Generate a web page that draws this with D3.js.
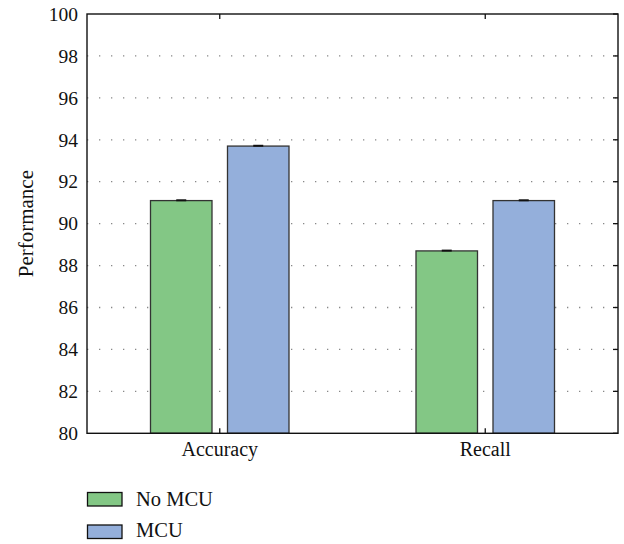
<!DOCTYPE html>
<html><head><meta charset="utf-8">
<script src="https://cdn.jsdelivr.net/npm/d3@7"></script>
<style>body{margin:0;background:#fff}svg{display:block}svg text{font-family:"Liberation Serif","Times New Roman",serif !important;fill:#111}</style>
</head><body><svg id="c" width="624" height="544"></svg>
<script>
const categories = ["Accuracy", "Recall"];
const seriesNames = ["No MCU", "MCU"];
const noMCU = [91.1, 88.7];
const mcu = [93.7, 91.1];
const yTicks = [80, 82, 84, 86, 88, 90, 92, 94, 96, 98, 100];
const colors = ["#83c785", "#94afdb"];

const svg = d3.select("#c");
const L = 87, R = 618, T = 14, B = 433.3;
const x = d3.scaleBand().domain(categories).range([L, R]).paddingInner(0.0).paddingOuter(0.0);
const y = d3.scaleLinear().domain([80, 100]).range([B, T]);
const bw = 61.5, gap = 15.5;

svg.append("g").selectAll("line").data(yTicks.slice(1, -1)).join("line")
  .attr("x1", L).attr("x2", R).attr("y1", d => y(d)).attr("y2", d => y(d))
  .attr("stroke", "#888").attr("stroke-width", 1.3).attr("stroke-dasharray", "1.3,10.7");

const series = [noMCU, mcu];
series.forEach((vals, si) => {
  const g = svg.append("g");
  g.selectAll("rect").data(categories).join("rect")
    .attr("x", d => x(d) + x.bandwidth()/2 + (si === 0 ? -gap/2 - bw : gap/2))
    .attr("width", bw)
    .attr("y", (d, i) => y(vals[i]))
    .attr("height", (d, i) => B - y(vals[i]))
    .attr("fill", colors[si]).attr("stroke", "#333").attr("stroke-width", 1.3);
  g.selectAll("line").data(categories).join("line")
    .attr("x1", d => x(d) + x.bandwidth()/2 + (si === 0 ? -gap/2 - bw/2 : gap/2 + bw/2) - 5)
    .attr("x2", d => x(d) + x.bandwidth()/2 + (si === 0 ? -gap/2 - bw/2 : gap/2 + bw/2) + 5)
    .attr("y1", (d, i) => y(vals[i]) - 0.3).attr("y2", (d, i) => y(vals[i]) - 0.3)
    .attr("stroke", "#111").attr("stroke-width", 2);
});

svg.append("rect").attr("x", L).attr("y", T).attr("width", R - L).attr("height", B - T)
  .attr("fill", "none").attr("stroke", "#111").attr("stroke-width", 1.4);

const yAxis = svg.append("g").attr("transform", `translate(${L},0)`)
  .call(d3.axisLeft(y).tickValues(yTicks).tickSize(0).tickPadding(9).tickFormat(d3.format("d")));
yAxis.select(".domain").remove();
yAxis.attr("font-family", null).attr("font-size", null);
yAxis.selectAll("text").attr("font-size", 19.5);

svg.append("g").selectAll("line").data(yTicks).join("line")
  .attr("x1", R - 5).attr("x2", R).attr("y1", d => y(d)).attr("y2", d => y(d))
  .attr("stroke", "#111").attr("stroke-width", 1.3);

const xAxis = svg.append("g").attr("transform", `translate(0,${B})`)
  .call(d3.axisBottom(x).tickSize(0).tickPadding(8.5));
xAxis.select(".domain").remove();
xAxis.attr("font-family", null).attr("font-size", null);
xAxis.selectAll("text").attr("font-size", 20);
categories.forEach(c => {
  const cx = x(c) + x.bandwidth()/2;
  svg.append("line").attr("x1", cx).attr("x2", cx).attr("y1", B).attr("y2", B - 5).attr("stroke", "#111").attr("stroke-width", 1.3);
  svg.append("line").attr("x1", cx).attr("x2", cx).attr("y1", T).attr("y2", T + 5).attr("stroke", "#111").attr("stroke-width", 1.3);
});

svg.append("text").attr("transform", `translate(33,${(T + B)/2}) rotate(-90)`)
  .attr("text-anchor", "middle").attr("font-size", 21).text("Performance");

const leg = svg.append("g");
seriesNames.forEach((n, i) => {
  leg.append("rect").attr("x", 87.5).attr("y", 492.5 + i * 32.5).attr("width", 34.5).attr("height", 13.5)
    .attr("fill", colors[i]).attr("stroke", "#111").attr("stroke-width", 1.3);
  leg.append("text").attr("x", 136).attr("y", 505.5 + i * 31).attr("font-size", 20.5).text(n);
});
</script></body></html>
